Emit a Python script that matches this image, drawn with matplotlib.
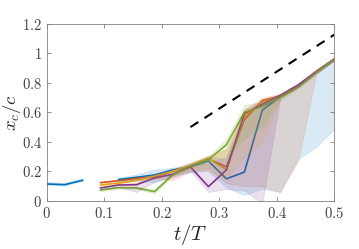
import numpy as np
import matplotlib
matplotlib.use("Agg")
import matplotlib.pyplot as plt

nan = np.nan

# ---------------------------------------------------
# data
# ---------------------------------------------------
t = [0.0, 0.03125, 0.0625, 0.09375, 0.125, 0.15625, 0.1875, 0.21875, 0.25,
     0.28125, 0.3125, 0.34375, 0.375, 0.40625, 0.4375, 0.46875, 0.5]

blue = [0.115, 0.11, 0.14, nan, 0.145, 0.16, 0.176, 0.21, 0.232,
        0.27, 0.15, 0.195, 0.615, 0.705, 0.775, 0.87, 0.955]
blue_lo = [0.105, 0.10, 0.13, nan, 0.13, 0.14, 0.12, 0.17, 0.19,
           0.20, 0.09, 0.035, 0.08, 0.056, 0.28, 0.36, 0.48]
blue_hi = [0.125, 0.12, 0.15, nan, 0.155, 0.175, 0.21, 0.22, 0.25,
           0.30, 0.28, 0.55, 0.65, 0.715, 0.785, 0.88, 0.965]

orange = [nan, nan, nan, 0.124, 0.137, 0.153, 0.162, 0.2, 0.235,
          0.285, 0.23, 0.55, 0.68, 0.71, 0.78, 0.875, 0.96]
orange_lo = [nan, nan, nan, 0.115, 0.12, 0.135, 0.15, 0.14, 0.2,
             0.22, 0.12, 0.10, 0.10, 0.06, 0.27, 0.86, 0.95]
orange_hi = [nan, nan, nan, 0.13, 0.145, 0.16, 0.18, 0.21, 0.26,
             0.30, 0.35, 0.62, 0.70, 0.725, 0.79, 0.89, 0.97]

yellow = [nan, nan, nan, 0.108, 0.12, 0.14, 0.165, 0.2, 0.24,
          0.29, 0.21, 0.57, 0.67, 0.71, 0.78, 0.875, 0.96]
yellow_lo = [nan, nan, nan, 0.095, 0.11, 0.125, 0.15, 0.18, 0.21,
             0.20, 0.15, 0.30, 0.40, 0.69, 0.77, 0.865, 0.95]
yellow_hi = [nan, nan, nan, 0.115, 0.13, 0.15, 0.18, 0.215, 0.26,
             0.31, 0.35, 0.60, 0.68, 0.72, 0.79, 0.885, 0.97]

purple = [nan, nan, nan, 0.088, 0.108, 0.11, 0.155, 0.18, 0.23,
          0.097, 0.21, 0.59, 0.655, 0.715, 0.785, 0.875, 0.96]
purple_lo = [nan, nan, nan, 0.08, 0.095, 0.06, 0.13, 0.16, 0.2,
             0.06, 0.08, 0.07, -0.02, 0.70, 0.77, 0.86, 0.95]
purple_hi = [nan, nan, nan, 0.095, 0.115, 0.12, 0.17, 0.19, 0.25,
             0.25, 0.30, 0.62, 0.68, 0.725, 0.80, 0.89, 0.97]

green = [nan, nan, nan, 0.074, 0.09, 0.088, 0.063, 0.176, 0.235,
         0.28, 0.38, 0.60, 0.64, 0.70, 0.77, 0.87, 0.96]
green_lo = [nan, nan, nan, 0.065, 0.08, 0.08, 0.05, 0.165, 0.22,
            0.26, 0.30, 0.42, 0.50, 0.68, 0.76, 0.86, 0.95]
green_hi = [nan, nan, nan, 0.08, 0.095, 0.10, 0.08, 0.19, 0.25,
            0.30, 0.42, 0.65, 0.67, 0.72, 0.78, 0.88, 0.97]

dash_t = [0.25, 0.5]
dash_y = [0.5, 1.125]

xticks = [0, 0.1, 0.2, 0.3, 0.4, 0.5]
xtick_labels = ["0", "0.1", "0.2", "0.3", "0.4", "0.5"]
yticks = [0, 0.2, 0.4, 0.6, 0.8, 1.0, 1.2]
ytick_labels = ["0", "0.2", "0.4", "0.6", "0.8", "1", "1.2"]

series = [
    (blue, blue_lo, blue_hi, "#0072BD"),
    (orange, orange_lo, orange_hi, "#D95319"),
    (yellow, yellow_lo, yellow_hi, "#EDB120"),
    (purple, purple_lo, purple_hi, "#7E2F8E"),
    (green, green_lo, green_hi, "#77AC30"),
]

# ---------------------------------------------------
# plot
# ---------------------------------------------------
plt.rcParams["mathtext.fontset"] = "cm"
plt.rcParams["font.family"] = "serif"
plt.rcParams["font.serif"] = ["DejaVu Serif"]

fig = plt.figure(figsize=(3.59, 2.49), dpi=100)
ax = fig.add_axes([0.130, 0.193, 0.801, 0.712])

tt = np.array(t)
for y, lo, hi, c in series:
    ax.plot(tt, y, color=c, lw=1.2, zorder=3)
    lo = np.array(lo)
    hi = np.array(hi)
    ok = ~np.isnan(lo)
    ax.fill_between(tt, lo, hi, where=ok, color=c, alpha=0.15,
                    lw=0.5, zorder=4)

ax.plot(dash_t, dash_y, color="black", lw=1.5, ls=(0, (4.5, 3.5)), zorder=5)

ax.set_xlim(0, 0.5)
ax.set_ylim(0, 1.2)
ax.set_xticks(xticks)
ax.set_xticklabels(["$" + s + "$" for s in xtick_labels])
ax.set_yticks(yticks)
ax.set_yticklabels(["$" + s + "$" for s in ytick_labels])
ax.tick_params(direction="in", top=True, right=True, length=3,
               color="#808080", labelcolor="#404040", labelsize=10.5, width=0.6)
for s in ax.spines.values():
    s.set_color("#808080")
    s.set_linewidth(0.6)

ax.set_xlabel("$t/T$", fontsize=15, color="#262626", labelpad=1)
ax.set_ylabel("$x_c/c$", fontsize=13.5, color="#262626")
ax.yaxis.set_label_coords(-0.082, 0.5)

plt.savefig("out.png", dpi=100)
